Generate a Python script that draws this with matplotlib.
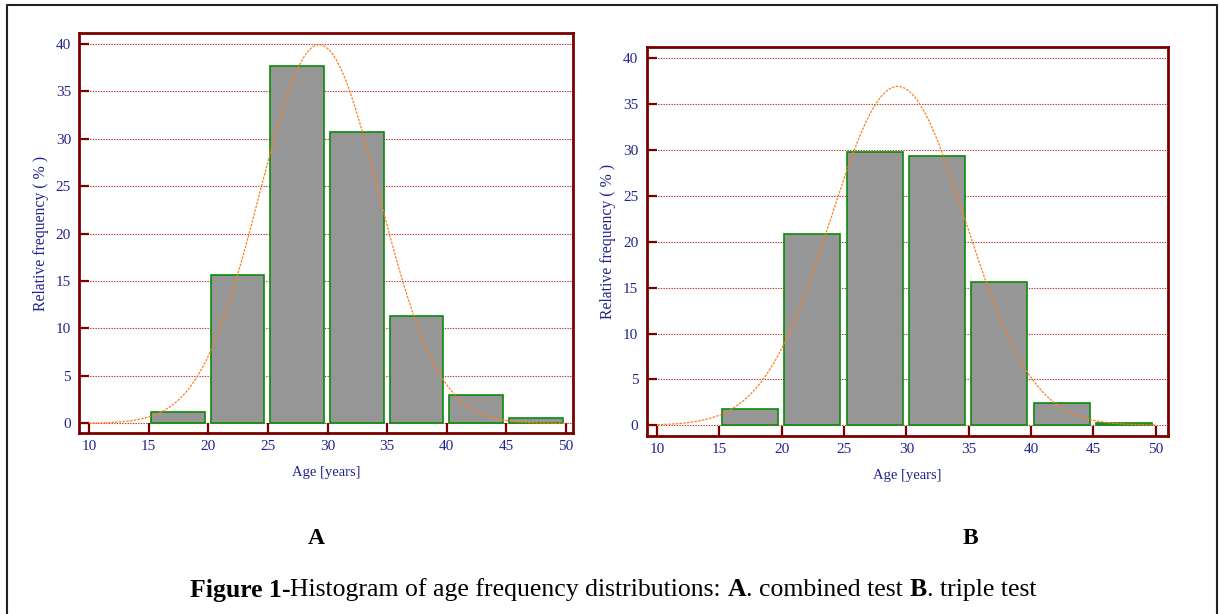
import numpy as np
import matplotlib
matplotlib.use("Agg")
import matplotlib.pyplot as plt
from matplotlib.lines import Line2D

# ---- data ----
bin_edges = [15, 20, 25, 30, 35, 40, 45]
freq_a = [1.2, 15.6, 37.6, 30.7, 11.3, 3.0, 0.6]
freq_b = [1.8, 20.8, 29.8, 29.4, 15.6, 2.4, 0.2]
fit_a = (29.3, 5.0)    # mean, sd of fitted normal curve (combined test)
fit_b = (29.3, 5.4)    # mean, sd of fitted normal curve (triple test)
xticks = [10, 15, 20, 25, 30, 35, 40, 45, 50]
yticks = [0, 5, 10, 15, 20, 25, 30, 35, 40]
bin_width = 5

W, H = 1220, 614
fig = plt.figure(figsize=(W / 100, H / 100), dpi=100)
plt.rcParams['font.family'] = ['Liberation Serif', 'DejaVu Serif']

spine_c = '#7a0000'
label_c = '#23238e'
grid_c = '#b03535'

def panel(box, freq, fit, xlim, ylim, ylab_off, xlab_off):
    ax = fig.add_axes(box)
    ax.set_xlim(*xlim)
    ax.set_ylim(*ylim)
    for y in yticks:
        ax.axhline(y, color=grid_c, lw=0.8, ls=(0, (1.2, 1.2)), zorder=1)
    ax.bar([e + 0.2 for e in bin_edges], freq, width=4.5, align='edge',
           color='#969696', edgecolor='#0a8a0a', linewidth=1.2, zorder=2)
    mu, sd = fit
    xs = np.linspace(10, 50, 400)
    ys = 100 * bin_width * np.exp(-0.5 * ((xs - mu) / sd) ** 2) / (sd * np.sqrt(2 * np.pi))
    ax.plot(xs, ys, color='#ff7f1e', lw=0.9, ls=(0, (2, 1)), zorder=3)
    for s in ax.spines.values():
        s.set_color(spine_c)
        s.set_linewidth(2.0)
    ax.set_xticks(xticks)
    ax.set_yticks(yticks)
    ax.tick_params(axis='both', direction='in', colors=spine_c, width=1.6,
                   length=7.5, labelcolor=label_c, labelsize=11)
    ax.tick_params(axis='y', pad=6)
    ax.tick_params(axis='x', pad=5)
    ax.set_ylabel('Relative frequency ( % )', color=label_c, fontsize=11.3, labelpad=ylab_off)
    ax.set_xlabel('Age [years]', color=label_c, fontsize=10.5, labelpad=xlab_off)
    return ax

axA = panel([79.3 / W, 1 - 433.3 / H, (573.3 - 79.3) / W, (433.3 - 32.7) / H],
            freq_a, fit_a, (9.19, 50.6), (-1.05, 41.16), 5, 9.5)
axB = panel([646.7 / W, 1 - 436 / H, (1168.3 - 646.7) / W, (436 - 47.3) / H],
            freq_b, fit_b, (9.17, 51.0), (-1.17, 41.2), 5, 9.5)

# panel letters
fig.text(316 / W, 1 - 538 / H, 'A', fontsize=17, fontweight='bold', ha='center', va='center')
fig.text(970 / W, 1 - 538 / H, 'B', fontsize=17, fontweight='bold', ha='center', va='center')

# caption with mixed weights
pieces = [('Figure 1-', 'bold'), ('Histogram of age frequency distributions: ', 'normal'),
          ('A', 'bold'), ('. combined test ', 'normal'), ('B', 'bold'), ('. triple test', 'normal')]
fig.canvas.draw()
r = fig.canvas.get_renderer()
texts = []
for s, w in pieces:
    t = fig.text(0, 1 - 590 / H, s, fontsize=18.5, fontweight=w, va='center', ha='left')
    texts.append(t)
widths = [t.get_window_extent(r).width for t in texts]
total = sum(widths)
x = 613 - total / 2
for t, wd in zip(texts, widths):
    t.set_x(x / W)
    x += wd

# outer border
bx = [7 / W, 7 / W, 1217 / W, 1217 / W]
by = [0, 1 - 5 / H, 1 - 5 / H, 0]
fig.add_artist(Line2D(bx, by, transform=fig.transFigure, color='#222222', lw=1.5))

fig.savefig('out.png', dpi=100)
